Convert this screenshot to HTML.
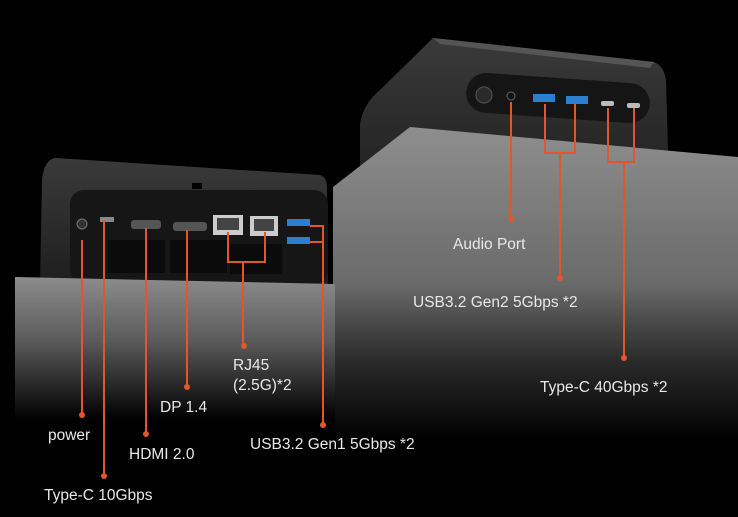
<!DOCTYPE html>
<html><head><style>
html,body{margin:0;padding:0;background:#000;}
svg{display:block}
text{font-family:"Liberation Sans",sans-serif;fill:#e8e8e8;font-size:15.5px}
</style></head><body>
<svg width="738" height="517" viewBox="0 0 738 517" xmlns="http://www.w3.org/2000/svg">
<defs>
<linearGradient id="gL" gradientUnits="userSpaceOnUse" x1="0" y1="277" x2="0" y2="420">
<stop offset="0" stop-color="#8c8c8c"/><stop offset="0.45" stop-color="#5a5a5a"/><stop offset="1" stop-color="#000"/></linearGradient>
<linearGradient id="gR" gradientUnits="userSpaceOnUse" x1="0" y1="127" x2="0" y2="440">
<stop offset="0" stop-color="#8e8e8e"/><stop offset="0.5" stop-color="#6a6a6a"/><stop offset="0.75" stop-color="#2a2a2a"/><stop offset="1" stop-color="#000"/></linearGradient>
<linearGradient id="dev" x1="0" y1="0" x2="0" y2="1">
<stop offset="0" stop-color="#3a3a3a"/><stop offset="1" stop-color="#1e1e1e"/></linearGradient>
</defs>
<rect width="738" height="517" fill="#000"/>
<!-- right device -->
<path d="M433,38 L654,62 Q664,66 666,80 L668,150 L668,200 L360,200 L360,125 Q362,105 380,90 Z" fill="url(#dev)"/>
<polygon points="433,38 654,62 650,68 440,44" fill="#555"/>
<rect x="466" y="78" width="184" height="40" rx="20" fill="#151515" transform="rotate(4 558 98)"/>
<circle cx="484" cy="95" r="8" fill="#2a2a2a" stroke="#555"/>
<circle cx="511" cy="96" r="4" fill="#111" stroke="#666"/>
<rect x="533" y="94" width="22" height="8" fill="#2a7fd0"/>
<rect x="566" y="96" width="22" height="8" fill="#2a7fd0"/>
<rect x="601" y="101" width="13" height="5" rx="2" fill="#bbb"/>
<rect x="627" y="103" width="13" height="5" rx="2" fill="#bbb"/>
<!-- right pedestal -->
<polygon points="333,187 410,127 738,157 738,517 333,517" fill="url(#gR)"/>
<!-- left device -->
<path d="M55,158 L320,175 Q328,178 327,190 L328,285 L40,285 L42,180 Q44,160 55,158Z" fill="url(#dev)"/>
<rect x="70" y="190" width="258" height="94" rx="14" fill="#161616"/>
<rect x="192" y="183" width="10" height="6" fill="#000"/>
<rect x="108" y="240" width="57" height="33" fill="#0b0b0b"/>
<rect x="170" y="240" width="57" height="33" fill="#0b0b0b"/>
<rect x="230" y="244" width="52" height="30" fill="#0b0b0b"/>
<circle cx="82" cy="224" r="5" fill="#333" stroke="#777"/>
<rect x="100" y="217" width="14" height="5" fill="#888"/>
<rect x="131" y="220" width="30" height="9" rx="3" fill="#555"/>
<rect x="173" y="222" width="34" height="9" rx="3" fill="#555"/>
<rect x="213" y="215" width="30" height="20" fill="#ccc"/><rect x="217" y="218" width="22" height="12" fill="#444"/>
<rect x="250" y="216" width="28" height="20" fill="#ccc"/><rect x="254" y="219" width="20" height="12" fill="#444"/>
<rect x="287" y="219" width="23" height="7" fill="#2a7fd0"/>
<rect x="287" y="237" width="23" height="7" fill="#2a7fd0"/>
<!-- left block -->
<polygon points="15,277 335,284 335,517 15,517" fill="url(#gL)"/>
<g stroke="#e0582a" stroke-width="2" fill="none">
<path d="M82,240 V415"/>
<path d="M104,220 V476"/>
<path d="M146,228 V434"/>
<path d="M187,230 V387"/>
<path d="M228,232 V262 H265 V232 M243,262 V346"/>
<path d="M310,226 H323 V425 M310,242 H323"/>
<path d="M511,102 V219"/>
<path d="M545,104 V153 H575 V104 M560,153 V278"/>
<path d="M608,108 V162 H634 V108 M624,162 V358"/>
</g>
<g fill="#e0582a">
<circle cx="82" cy="415" r="3"/><circle cx="104" cy="476" r="3"/><circle cx="146" cy="434" r="3"/>
<circle cx="187" cy="387" r="3"/><circle cx="244" cy="346" r="3"/><circle cx="323" cy="425" r="3"/>
<circle cx="511" cy="219" r="3"/><circle cx="560" cy="278" r="3"/><circle cx="624" cy="358" r="3"/>
</g>
<text x="48" y="440">power</text>
<text x="44" y="500">Type-C  10Gbps</text>
<text x="129" y="459">HDMI 2.0</text>
<text x="160" y="412">DP 1.4</text>
<text x="233" y="370">RJ45</text>
<text x="233" y="390">(2.5G)*2</text>
<text x="250" y="449">USB3.2 Gen1 5Gbps *2</text>
<text x="453" y="249">Audio Port</text>
<text x="413" y="307">USB3.2 Gen2 5Gbps *2</text>
<text x="540" y="392">Type-C 40Gbps *2</text>
</svg>
</body></html>
